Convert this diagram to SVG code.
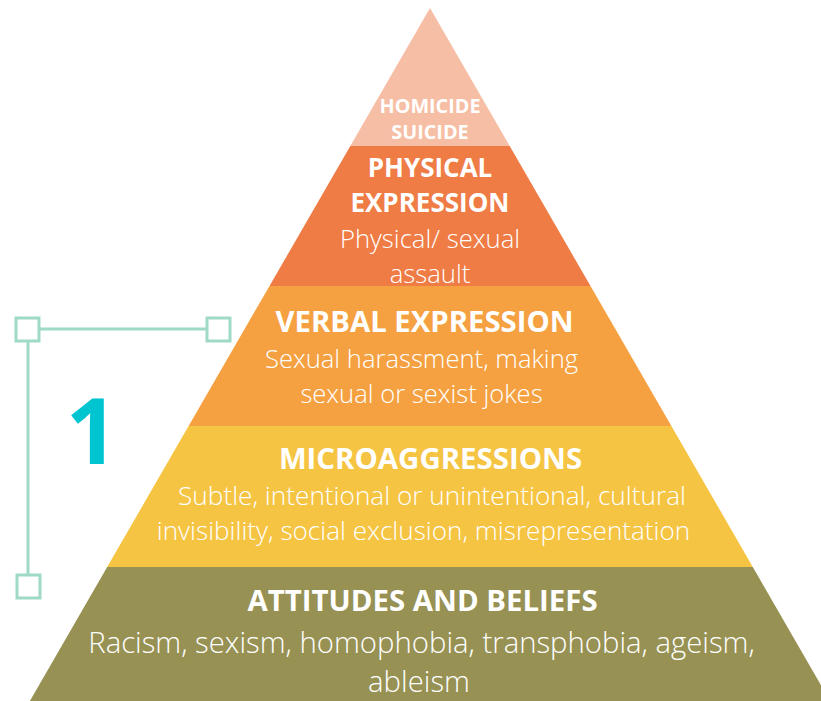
<svg xmlns="http://www.w3.org/2000/svg" width="821" height="701" viewBox="0 0 821 701">
<style>
.t{font-family:"Open Sans","Noto Sans","Liberation Sans",sans-serif;font-weight:700;fill:#fff;text-anchor:middle}
.s{font-family:"Open Sans","Noto Sans","Liberation Sans",sans-serif;font-weight:300;fill:#fff;text-anchor:middle}
.br{fill:none;stroke:#9fd9c7;stroke-width:3}
</style>
<rect width="821" height="701" fill="#fff"/>
<g id="tier-homicide">
<polygon points="430,8 509.7,146 350.3,146" fill="#f6bea4"/>
<text class="t" x="430" y="113" font-size="19.8">HOMICIDE</text>
<text class="t" x="430" y="139" font-size="19.8">SUICIDE</text>
</g>
<g id="tier-physical">
<polygon points="350.3,146 509.7,146 590.5,286 269.5,286" fill="#ef7b45"/>
<text class="t" x="430" y="177" font-size="26">PHYSICAL</text>
<text class="t" x="430" y="212" font-size="26">EXPRESSION</text>
<text class="s" x="430" y="248" font-size="25.7">Physical/ sexual</text>
<text class="s" x="430" y="283" font-size="25.7">assault</text>
</g>
<g id="tier-verbal">
<polygon points="269.5,286 590.5,286 671.4,426 188.6,426" fill="#f5a142"/>
<text class="t" x="424.5" y="332" font-size="29.3">VERBAL EXPRESSION</text>
<text class="s" x="421.5" y="368" font-size="25.6">Sexual harassment, making</text>
<text class="s" x="421.5" y="403" font-size="25.6">sexual or sexist jokes</text>
</g>
<g id="tier-micro">
<polygon points="188.6,426 671.4,426 752.8,567 107.2,567" fill="#f5c443"/>
<text class="t" x="430.5" y="469" font-size="29.4">MICROAGGRESSIONS</text>
<text class="s" x="432" y="505" font-size="26.2">Subtle, intentional or unintentional, cultural</text>
<text class="s" x="423.5" y="540" font-size="26.1">invisibility, social exclusion, misrepresentation</text>
</g>
<g id="tier-attitudes">
<polygon points="107.2,567 752.8,567 830.1,701 29.9,701" fill="#979153"/>
<text class="t" x="422.5" y="611" font-size="29.4">ATTITUDES AND BELIEFS</text>
<text class="s" x="421.5" y="653" font-size="29.3">Racism, sexism, homophobia, transphobia, ageism,</text>
<text class="s" x="419" y="692" font-size="29.3">ableism</text>
</g>
<g id="connectors">
<path class="br" d="M40,329 H206 M28,341 V574"/>
<rect class="br" x="16" y="318" width="23" height="23"/>
<rect class="br" x="207" y="318" width="23" height="23"/>
<rect class="br" x="17" y="575" width="23" height="23"/>
</g>
<g id="label-1">
<text x="92" y="464" font-family="'Open Sans','Noto Sans','Liberation Sans',sans-serif" font-weight="700" font-size="92" fill="#00c5d0" text-anchor="middle">1</text>
</g>
</svg>
